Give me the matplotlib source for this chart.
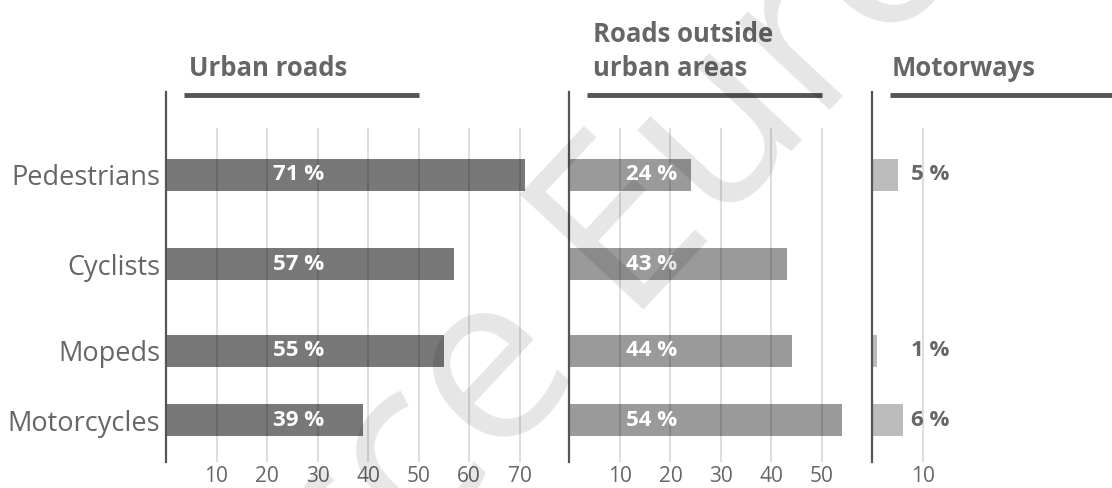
import matplotlib.pyplot as plt
from matplotlib.transforms import blended_transform_factory

# data
categories = ['Pedestrians', 'Cyclists', 'Mopeds', 'Motorcycles']
urban = [71, 57, 55, 39]
outside = [24, 43, 44, 54]
motorways = [5, None, 1, 6]

panel_titles = ['Urban roads', 'Roads outside\nurban areas', 'Motorways']
urban_ticks = [10, 20, 30, 40, 50, 60, 70]
outside_ticks = [10, 20, 30, 40, 50]
motorway_ticks = [10]

# layout (row spacing is uneven in the original)
row_pos = [0, 1.0, 1.97, 2.75]
bar_h = 0.36

plt.rcParams['font.family'] = ['Open Sans', 'DejaVu Sans']
txt = '#666666'

fig = plt.figure(figsize=(11.12, 4.88), dpi=100)

W, H = 1112.0, 488.0
px = 5.05  # pixels per percent unit, shared by all panels
bottom = (H - 462) / H
height = 370 / H

specs = [
    # left px, xmax, values, ticks, bar colour, label x, label mode
    (166.0, 75, urban, urban_ticks, '#787878', 26.2, 'in'),
    (569.4, 55, outside, outside_ticks, '#9a9a9a', 16.3, 'in'),
    (872.3, 47.5, motorways, motorway_ticks, '#bbbbbb', 7.7, 'out'),
]
title_x = [4.5, 4.7, 3.9]

for i, (left, xmax, vals, ticks, col, lab_x, mode) in enumerate(specs):
    ax = fig.add_axes([left / W, bottom, xmax * px / W, height])
    ax.set_xlim(0, xmax)
    ax.set_ylim(3.22, -0.93)

    for r, v in zip(row_pos, vals):
        if v is None:
            continue
        ax.barh(r, v, height=bar_h, color=col, zorder=2)
        if mode == 'in':
            ax.text(lab_x, r, f'{v} %', color='white', fontsize=16,
                    fontweight='bold', ha='center', va='center', zorder=4)
        else:
            ax.text(lab_x, r, f'{v} %', color=txt, fontsize=16,
                    fontweight='bold', ha='left', va='center', zorder=4)

    # grid lines drawn over the bars, faint
    ax.vlines(ticks, -0.53, 3.22, color='black', alpha=0.13, lw=1.5, zorder=3)

    for s in ['top', 'right', 'bottom']:
        ax.spines[s].set_visible(False)
    ax.spines['left'].set_color('#555555')
    ax.spines['left'].set_linewidth(1.6)

    ax.set_xticks(ticks)
    ax.tick_params(axis='x', length=0, pad=3, labelsize=15, labelcolor=txt)
    if i == 0:
        ax.set_yticks(row_pos)
        ax.set_yticklabels(categories)
        ax.tick_params(axis='y', length=0, pad=4, labelsize=19.5, labelcolor=txt)
    else:
        ax.set_yticks([])

    # panel title and underline
    tr = blended_transform_factory(ax.transData, ax.transAxes)
    x_end = 50 if i < 2 else xmax
    ax.plot([3.5, x_end], [0.992, 0.992], transform=tr, color='#555555',
            lw=3.5, clip_on=False, solid_capstyle='butt')
    ax.text(title_x[i], (462 - 76) / 370.0, panel_titles[i], transform=tr,
            fontsize=18.5, fontweight='bold', color=txt, ha='left',
            va='baseline', linespacing=1.35)

# watermark
fig.text(0.5576, 0.498, 'Source Eurostat', rotation=47, fontsize=170,
         color='black', alpha=0.1, ha='center', va='center',
         rotation_mode='anchor', zorder=10)

plt.savefig('out.png', dpi=100)
